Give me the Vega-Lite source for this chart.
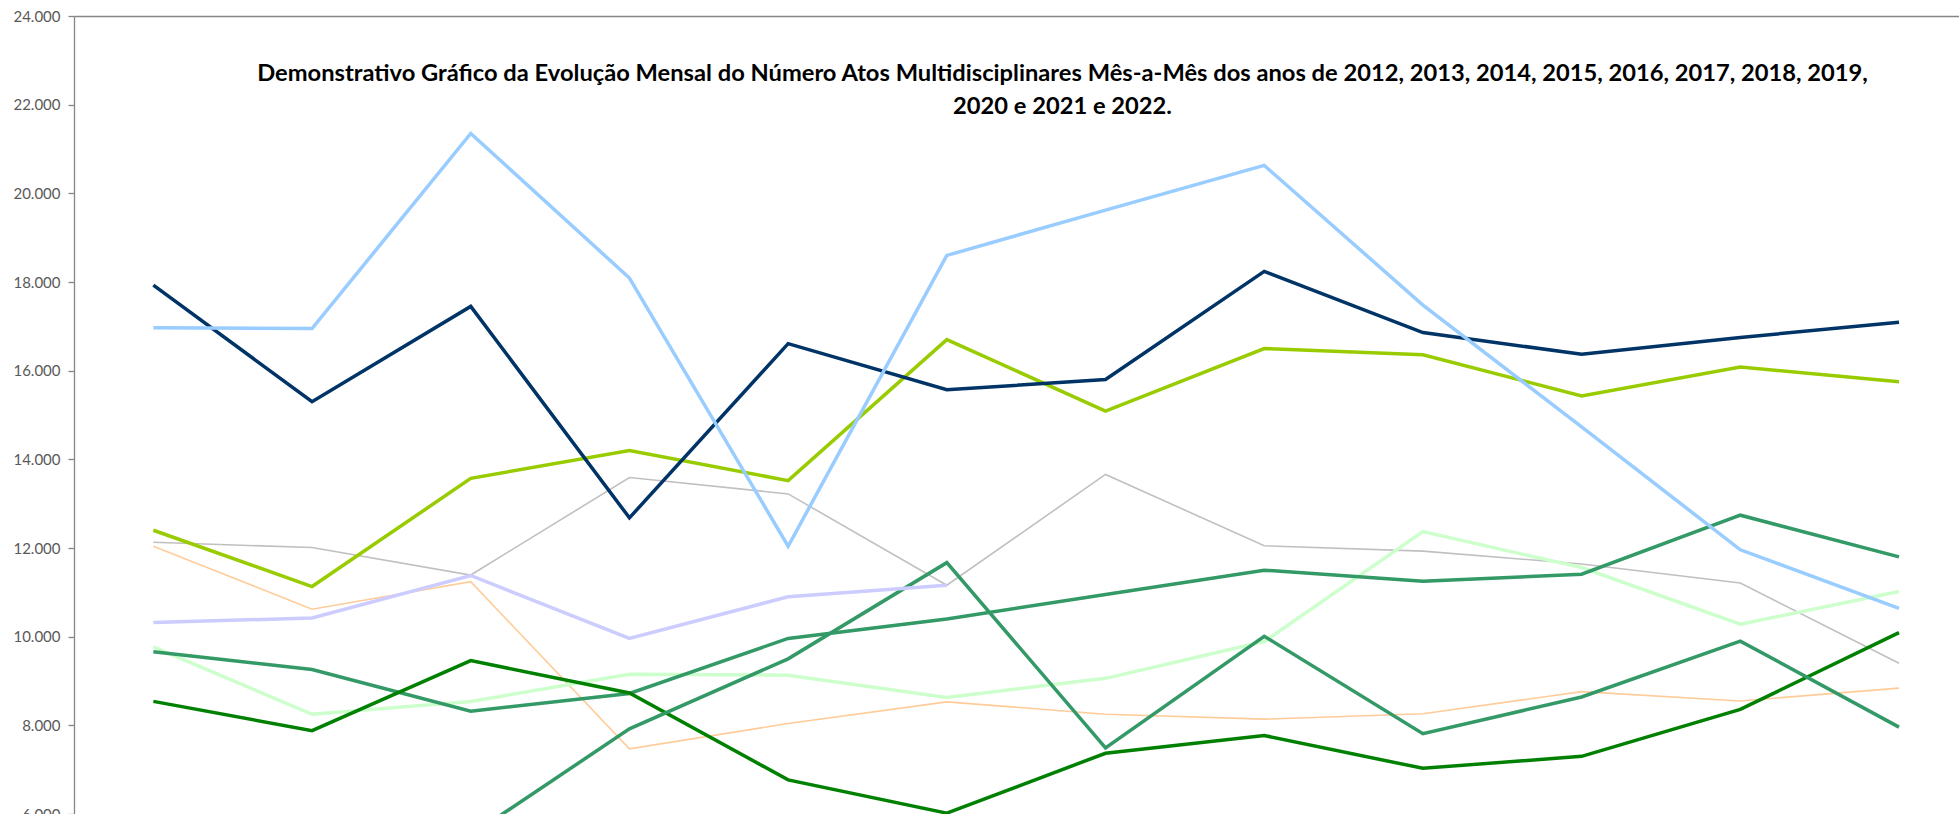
{
  "$schema": "https://vega.github.io/schema/vega-lite/v6.json",
  "autosize": {"type": "none"},
  "padding": {"left": 74, "top": 16, "right": 0, "bottom": 0},
  "width": 1885,
  "height": 798,
  "background": "#ffffff",
  "title": {
    "text": ["Demonstrativo Gráfico da Evolução Mensal do Número Atos Multidisciplinares Mês-a-Mês dos anos de  2012, 2013, 2014, 2015, 2016, 2017, 2018, 2019,", "2020 e 2021 e 2022."],
    "font": "Lato", "fontWeight": "bold", "fontSize": 23.7, "lineHeight": 33, "color": "#000000",
    "anchor": "middle", "frame": "group", "offset": -110, "dx": 46
  },
  "data": {"values": [
    {"serie": "2012", "mes": 1, "valor": 12130}, {"serie": "2012", "mes": 2, "valor": 12010}, {"serie": "2012", "mes": 3, "valor": 11390}, {"serie": "2012", "mes": 4, "valor": 13590}, {"serie": "2012", "mes": 5, "valor": 13220}, {"serie": "2012", "mes": 6, "valor": 11160}, {"serie": "2012", "mes": 7, "valor": 13660}, {"serie": "2012", "mes": 8, "valor": 12050}, {"serie": "2012", "mes": 9, "valor": 11930}, {"serie": "2012", "mes": 10, "valor": 11640}, {"serie": "2012", "mes": 11, "valor": 11210}, {"serie": "2012", "mes": 12, "valor": 9400},
    {"serie": "2013", "mes": 1, "valor": 12040}, {"serie": "2013", "mes": 2, "valor": 10620}, {"serie": "2013", "mes": 3, "valor": 11240}, {"serie": "2013", "mes": 4, "valor": 7470}, {"serie": "2013", "mes": 5, "valor": 8040}, {"serie": "2013", "mes": 6, "valor": 8530}, {"serie": "2013", "mes": 7, "valor": 8250}, {"serie": "2013", "mes": 8, "valor": 8140}, {"serie": "2013", "mes": 9, "valor": 8260}, {"serie": "2013", "mes": 10, "valor": 8760}, {"serie": "2013", "mes": 11, "valor": 8550}, {"serie": "2013", "mes": 12, "valor": 8840},
    {"serie": "2014", "mes": 1, "valor": 9770}, {"serie": "2014", "mes": 2, "valor": 8250}, {"serie": "2014", "mes": 3, "valor": 8540}, {"serie": "2014", "mes": 4, "valor": 9150}, {"serie": "2014", "mes": 5, "valor": 9130}, {"serie": "2014", "mes": 6, "valor": 8630}, {"serie": "2014", "mes": 7, "valor": 9060}, {"serie": "2014", "mes": 8, "valor": 9890}, {"serie": "2014", "mes": 9, "valor": 12370}, {"serie": "2014", "mes": 10, "valor": 11560}, {"serie": "2014", "mes": 11, "valor": 10280}, {"serie": "2014", "mes": 12, "valor": 11020},
    {"serie": "2015", "mes": 1, "valor": 9660}, {"serie": "2015", "mes": 2, "valor": 9260}, {"serie": "2015", "mes": 3, "valor": 8320}, {"serie": "2015", "mes": 4, "valor": 8720}, {"serie": "2015", "mes": 5, "valor": 9960}, {"serie": "2015", "mes": 6, "valor": 10400}, {"serie": "2015", "mes": 7, "valor": 10950}, {"serie": "2015", "mes": 8, "valor": 11500}, {"serie": "2015", "mes": 9, "valor": 11250}, {"serie": "2015", "mes": 10, "valor": 11410}, {"serie": "2015", "mes": 11, "valor": 12740}, {"serie": "2015", "mes": 12, "valor": 11800},
    {"serie": "2016", "mes": 1, "valor": 8540}, {"serie": "2016", "mes": 2, "valor": 7880}, {"serie": "2016", "mes": 3, "valor": 9460}, {"serie": "2016", "mes": 4, "valor": 8730}, {"serie": "2016", "mes": 5, "valor": 6770}, {"serie": "2016", "mes": 6, "valor": 6020}, {"serie": "2016", "mes": 7, "valor": 7370}, {"serie": "2016", "mes": 8, "valor": 7770}, {"serie": "2016", "mes": 9, "valor": 7030}, {"serie": "2016", "mes": 10, "valor": 7300}, {"serie": "2016", "mes": 11, "valor": 8360}, {"serie": "2016", "mes": 12, "valor": 10090},
    {"serie": "2017", "mes": 1, "valor": 12400}, {"serie": "2017", "mes": 2, "valor": 11130}, {"serie": "2017", "mes": 3, "valor": 13570}, {"serie": "2017", "mes": 4, "valor": 14200}, {"serie": "2017", "mes": 5, "valor": 13520}, {"serie": "2017", "mes": 6, "valor": 16700}, {"serie": "2017", "mes": 7, "valor": 15090}, {"serie": "2017", "mes": 8, "valor": 16500}, {"serie": "2017", "mes": 9, "valor": 16360}, {"serie": "2017", "mes": 10, "valor": 15430}, {"serie": "2017", "mes": 11, "valor": 16080}, {"serie": "2017", "mes": 12, "valor": 15750},
    {"serie": "2018", "mes": 1, "valor": 17930}, {"serie": "2018", "mes": 2, "valor": 15300}, {"serie": "2018", "mes": 3, "valor": 17450}, {"serie": "2018", "mes": 4, "valor": 12680}, {"serie": "2018", "mes": 5, "valor": 16610}, {"serie": "2018", "mes": 6, "valor": 15570}, {"serie": "2018", "mes": 7, "valor": 15800}, {"serie": "2018", "mes": 8, "valor": 18240}, {"serie": "2018", "mes": 9, "valor": 16860}, {"serie": "2018", "mes": 10, "valor": 16370}, {"serie": "2018", "mes": 11, "valor": 16750}, {"serie": "2018", "mes": 12, "valor": 17090},
    {"serie": "2019", "mes": 1, "valor": 16970}, {"serie": "2019", "mes": 2, "valor": 16950}, {"serie": "2019", "mes": 3, "valor": 21350}, {"serie": "2019", "mes": 4, "valor": 18090}, {"serie": "2019", "mes": 5, "valor": 12040}, {"serie": "2019", "mes": 6, "valor": 18600}, {"serie": "2019", "mes": 7, "valor": 19620}, {"serie": "2019", "mes": 8, "valor": 20630}, {"serie": "2019", "mes": 9, "valor": 17480}, {"serie": "2019", "mes": 10, "valor": 14730}, {"serie": "2019", "mes": 11, "valor": 11960}, {"serie": "2019", "mes": 12, "valor": 10640},
    {"serie": "2021", "mes": 1, "valor": 5200}, {"serie": "2021", "mes": 2, "valor": 5000}, {"serie": "2021", "mes": 3, "valor": 5520}, {"serie": "2021", "mes": 4, "valor": 7920}, {"serie": "2021", "mes": 5, "valor": 9500}, {"serie": "2021", "mes": 6, "valor": 11670}, {"serie": "2021", "mes": 7, "valor": 7490}, {"serie": "2021", "mes": 8, "valor": 10010}, {"serie": "2021", "mes": 9, "valor": 7810}, {"serie": "2021", "mes": 10, "valor": 8640}, {"serie": "2021", "mes": 11, "valor": 9900}, {"serie": "2021", "mes": 12, "valor": 7960},
    {"serie": "2022", "mes": 1, "valor": 10320}, {"serie": "2022", "mes": 2, "valor": 10420}, {"serie": "2022", "mes": 3, "valor": 11380}, {"serie": "2022", "mes": 4, "valor": 9960}, {"serie": "2022", "mes": 5, "valor": 10900}, {"serie": "2022", "mes": 6, "valor": 11160}
  ]},
  "encoding": {
    "x": {"field": "mes", "type": "quantitative",
      "scale": {"domain": [0.5, 12.378], "nice": false, "zero": false},
      "axis": {"orient": "top", "title": null, "labels": false, "ticks": false, "grid": false, "domain": true, "domainColor": "#868686", "domainWidth": 1.5}},
    "y": {"field": "valor", "type": "quantitative",
      "scale": {"domain": [6000, 24000], "nice": false, "zero": false},
      "axis": {"title": null, "grid": false, "values": [6000, 8000, 10000, 12000, 14000, 16000, 18000, 20000, 22000, 24000],
        "format": ",.0f", "domain": true, "domainColor": "#868686", "domainWidth": 1.3,
        "ticks": true, "tickColor": "#868686", "tickSize": 6, "tickWidth": 1.3,
        "labelFont": "Lato", "labelFontSize": 15, "labelColor": "#595959", "labelPadding": 8, "labelOverlap": false, "labelFlush": false}},
    "color": {"field": "serie", "type": "nominal",
      "scale": {"domain": ["2012", "2013", "2014", "2015", "2016", "2017", "2018", "2019", "2021", "2022"],
        "range": ["#C0C0C0", "#FFCC99", "#CCFFCC", "#339966", "#008000", "#99CC00", "#003366", "#99CCFF", "#339966", "#CCCCFF"]},
      "legend": null}
  },
  "layer": [
    {
      "data": {"values": [{}]},
      "mark": {"type": "rule", "color": "#A0A0A0", "strokeWidth": 1, "clip": false},
      "encoding": {
        "x": {"datum": 0.0337, "type": "quantitative"},
        "x2": {"datum": 12.378},
        "y": {"datum": 24225, "type": "quantitative"},
        "color": {"value": "#A0A0A0"}
      }
    },
    {
      "transform": [{"filter": "datum.serie === '2012' || datum.serie === '2013'"}],
      "mark": {"type": "line", "strokeWidth": 1.6, "clip": true}
    },
    {
      "transform": [{"filter": "datum.serie !== '2012' && datum.serie !== '2013'"}],
      "mark": {"type": "line", "strokeWidth": 3.5, "clip": true}
    }
  ],
  "config": {
    "locale": {"number": {"decimal": ",", "thousands": ".", "grouping": [3], "currency": ["R$", ""]}},
    "view": {"stroke": null}
  }
}
